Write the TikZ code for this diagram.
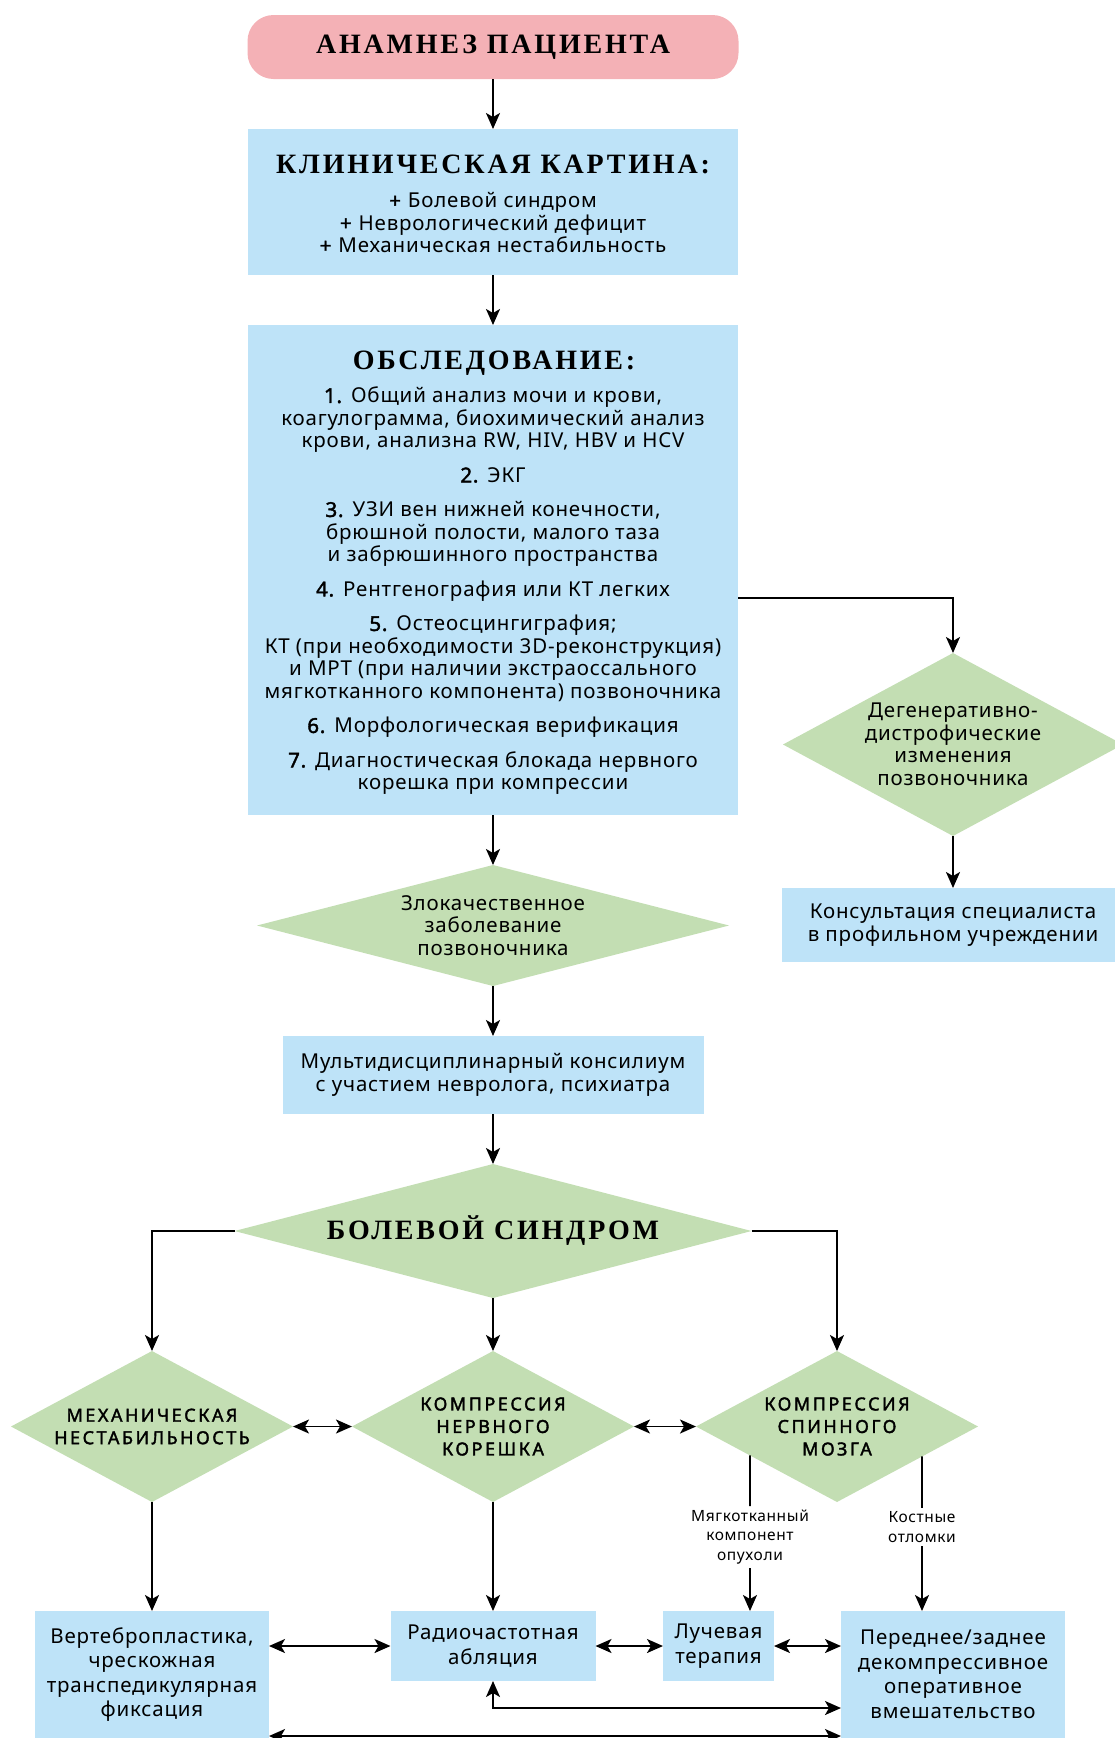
\documentclass[tikz,border=0pt]{standalone}
\usepackage{fontspec}
\setmainfont{Noto Sans}[LetterSpace=4,BoldFont={Noto Sans},BoldFeatures={FakeBold=2}]
\newfontfamily\headfont[LetterSpace=10]{Liberation Serif}
\newfontfamily\capsfont[LetterSpace=14,BoldFont={Noto Sans},BoldFeatures={FakeBold=2}]{Noto Sans}
\usetikzlibrary{shapes.geometric,arrows.meta,calc}
\definecolor{pinkbg}{HTML}{F4B1B6}
\definecolor{bluebg}{HTML}{BEE3F8}
\definecolor{greenbg}{HTML}{C3DEB3}

\begin{document}
\begin{tikzpicture}[x=1pt,y=-1pt,line width=1.8pt,
  >={Stealth[length=16pt,width=14pt,inset=4pt]},
  box/.style={rectangle,fill=bluebg,inner sep=0pt,outer sep=0pt,align=center,font=\fontsize{20.5}{22.5}\selectfont},
  bbox/.style={box,font=\fontsize{20.5}{24.5}\selectfont},
  dia/.style={diamond,fill=greenbg,inner sep=0pt,outer sep=0pt},
  dtext/.style={align=center,font=\fontsize{20.5}{22.5}\selectfont},
  ctext/.style={align=center,font=\fontsize{18}{22.5}\selectfont\capsfont\bfseries},
  head/.style={font=\fontsize{28}{30}\selectfont\headfont\bfseries},
  note/.style={align=center,inner sep=3pt,font=\fontsize{15.5}{19.5}\selectfont},
  flow/.style={->},
  both/.style={<->}]
  \useasboundingbox (0,0) rectangle (1115,1738);

  \node[head,rectangle,rounded corners=26pt,fill=pinkbg,minimum width=491pt,minimum height=64pt,outer sep=0pt] (anam) at (493,47) {АНАМНЕЗ ПАЦИЕНТА};

  \node[box,minimum width=490pt,minimum height=146pt] (clin) at (493,202) {};
  \node[head] (clintitle) at (493,164) {КЛИНИЧЕСКАЯ КАРТИНА:};
  \node[dtext] (clinlist) at (493,223) {\textbf{+} Болевой синдром\\\textbf{+} Неврологический дефицит\\\textbf{+} Механическая нестабильность};

  \node[box,minimum width=490pt,minimum height=490pt] (exam) at (493,570) {};
  \node[head] (examtitle) at (494,363) {ОБСЛЕДОВАНИЕ:};
  \node[dtext] (examlist) at (493,591) {\textbf{1.} Общий анализ мочи и крови,\\коагулограмма, биохимический анализ\\крови, анализна RW, HIV, HBV и HCV\\[12pt]
    \textbf{2.} ЭКГ\\[12pt]
    \textbf{3.} УЗИ вен нижней конечности,\\брюшной полости, малого таза\\и забрюшинного пространства\\[12pt]
    \textbf{4.} Рентгенография или КТ легких\\[12pt]
    \textbf{5.} Остеосцингиграфия;\\КТ (при необходимости 3D-реконструкция)\\и МРТ (при наличии экстраоссального\\мягкотканного компонента) позвоночника\\[12pt]
    \textbf{6.} Морфологическая верификация\\[12pt]
    \textbf{7.} Диагностическая блокада нервного\\корешка при компрессии};

  \node[dia,minimum width=340pt,minimum height=183pt,label={[dtext]center:Дегенеративно-\\дистрофические\\изменения\\позвоночника}] (deg) at (953,744.5) {};
  \node[box,minimum width=342pt,minimum height=74pt] (cons) at (953,925) {Консультация специалиста\\в профильном учреждении};

  \node[dia,minimum width=472pt,minimum height=121pt,label={[dtext]center:Злокачественное\\заболевание\\позвоночника}] (malig) at (493,925.5) {};
  \node[box,minimum width=421pt,minimum height=78pt] (multi) at (493,1075) {Мультидисциплинарный консилиум\\с участием невролога, психиатра};
  \node[dia,minimum width=517pt,minimum height=134pt,label={[head]center:БОЛЕВОЙ СИНДРОМ}] (pain) at (493,1231) {};

  \foreach \n/\x/\t in {mech/152/{МЕХАНИЧЕСКАЯ\\НЕСТАБИЛЬНОСТЬ}, nerve/493/{КОМПРЕССИЯ\\НЕРВНОГО\\КОРЕШКА}, spin/837/{КОМПРЕССИЯ\\СПИННОГО\\МОЗГА}}{
    \node[dia,minimum width=282pt,minimum height=151pt,label={[ctext]center:\t}] (\n) at (\x,1426.5) {};
  }

  \node[note] (soft) at (750,1537) {Мягкотканный\\компонент\\опухоли};
  \node[note] (bone) at (922,1527) {Костные\\отломки};

  \node[bbox,minimum width=234pt,minimum height=127pt] (vert) at (152,1674.5) {Вертебропластика,\\чрескожная\\транспедикулярная\\фиксация};
  \node[bbox,minimum width=205pt,minimum height=70pt] (abl) at (493,1646) {Радиочастотная\\абляция};
  \node[bbox,minimum width=111pt,minimum height=70pt] (ray) at (718.5,1646) {Лучевая\\терапия};
  \node[bbox,minimum width=224pt,minimum height=127pt] (surg) at (953,1674.5) {Переднее/заднее\\декомпрессивное\\оперативное\\вмешательство};
  \coordinate (lowrow) at (0,1708);
  \coordinate (botrow) at (0,1736);

  \draw[flow] (anam.south) -- (clin.north);
  \draw[flow] (clin.south) -- (exam.north);
  \draw[flow] ([yshift=-28pt]exam.east) -| (deg.north);
  \draw[flow] (exam.south) -- (malig.north);
  \draw[flow] (deg.south) -- (cons.north);
  \draw[flow] (malig.south) -- (multi.north);
  \draw[flow] (multi.south) -- (pain.north);
  \draw[flow] (pain.west) -| (mech.north);
  \draw[flow] (pain.south) -- (nerve.north);
  \draw[flow] (pain.east) -| (spin.north);
  \draw[both] (mech.east) -- (nerve.west);
  \draw[both] (nerve.east) -- (spin.west);
  \draw[flow] (mech.south) -- (vert.north);
  \draw[flow] (nerve.south) -- (abl.north);
  \draw ($(spin.west)!0.383!(spin.south)$) -- (soft.north);
  \draw[flow] (soft.south) -- (soft.south |- ray.north);
  \draw ($(spin.south)!0.603!(spin.east)$) -- (bone.north);
  \draw[flow] (bone.south) -- (bone.south |- surg.north);
  \draw[both] (vert.east |- abl.west) -- (abl.west);
  \draw[both] (abl.east) -- (ray.west);
  \draw[both] (ray.east) -- (ray.east -| surg.west);
  \draw[both] (abl.south) |- (lowrow -| surg.west);
  \draw[both] (vert.east |- botrow) -- (surg.west |- botrow);
\end{tikzpicture}
\end{document}
